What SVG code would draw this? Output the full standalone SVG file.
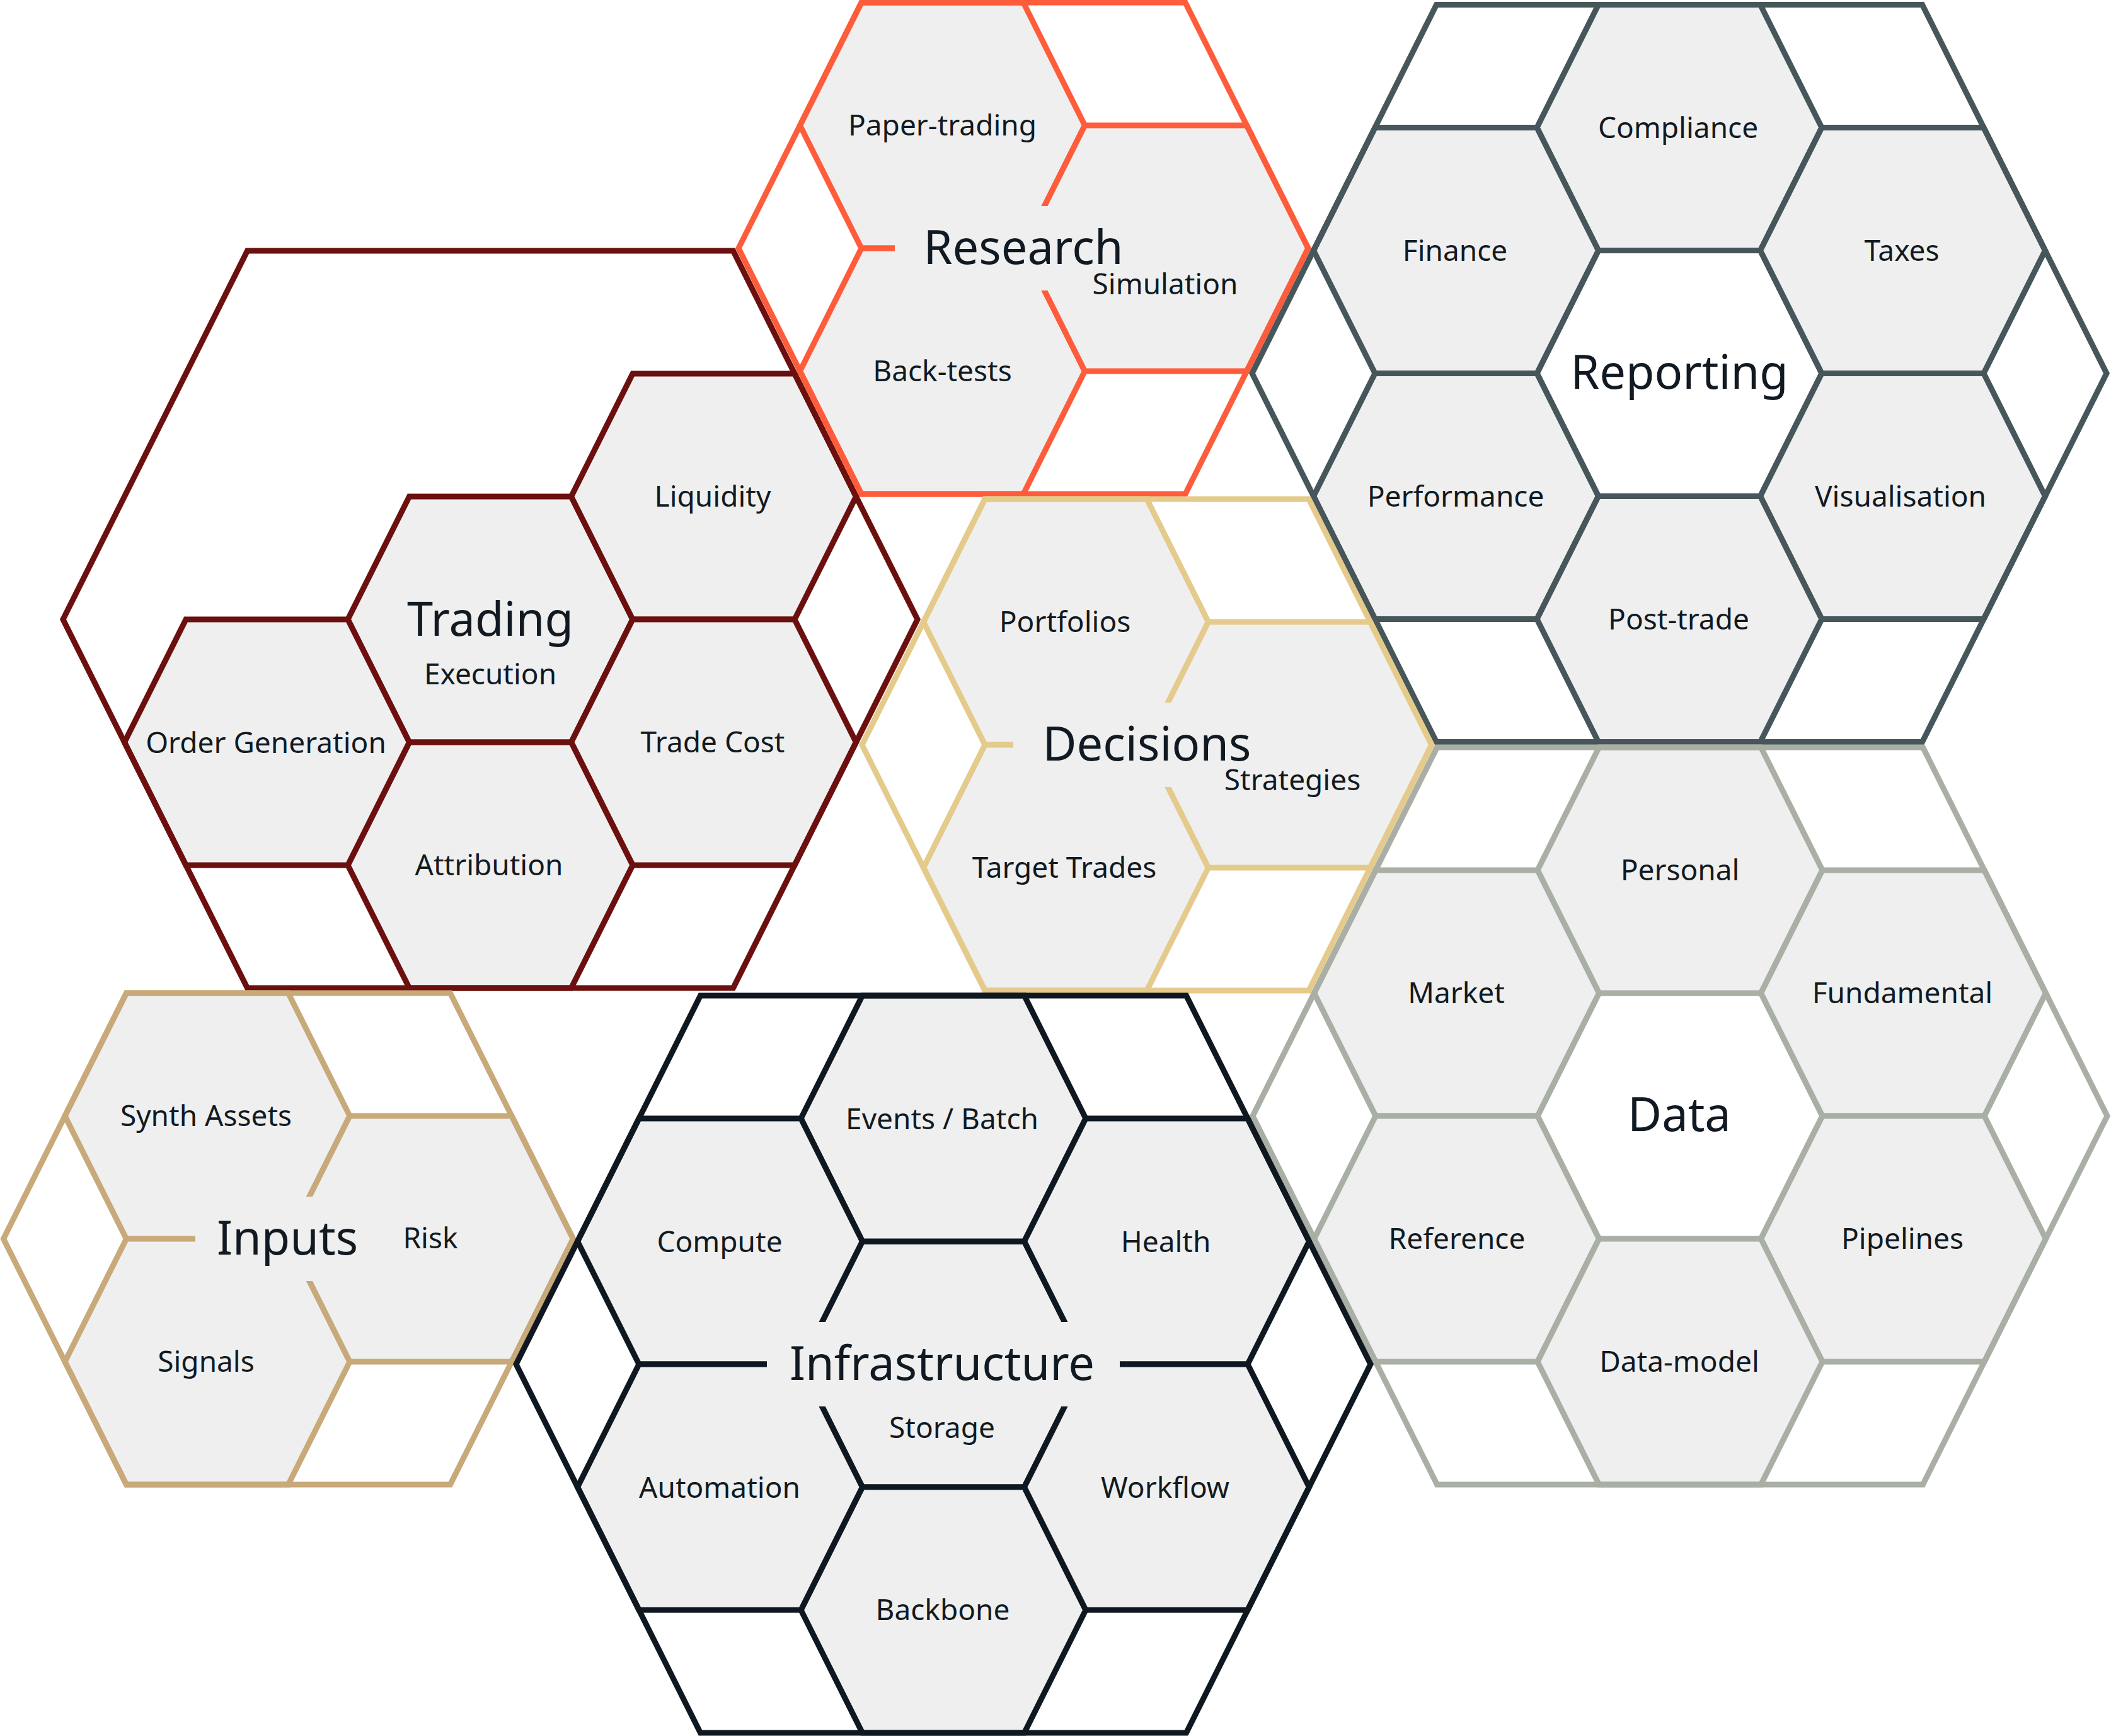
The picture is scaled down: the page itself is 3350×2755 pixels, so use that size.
<svg xmlns="http://www.w3.org/2000/svg" width="3350" height="2755" viewBox="0 0 3350 2755">
  <style>
    .cell { fill:#EFEFEF; stroke-width:9; }
    .void { fill:#FFFFFF; stroke-width:9; }
    .outer { fill:none; stroke-width:9; }
    .mask { fill:#EFEFEF; stroke:none; }
    .lbl { font-family:"Noto Sans","Liberation Sans",sans-serif; font-size:46px; fill:#111A22; stroke:none; text-anchor:middle; }
    .ttl { font-family:"Noto Sans","Liberation Sans",sans-serif; font-size:74px; fill:#111A22; stroke:none; text-anchor:middle; }
    #research { stroke:#FF5C3C; }
    #trading { stroke:#6B0F0F; }
    #reporting { stroke:#46565A; }
    #data { stroke:#A9AFA4; }
    #decisions { stroke:#E4CA8B; }
    #inputs { stroke:#C8A97A; }
    #infrastructure { stroke:#0F1820; }
  </style>
  <defs>
    <polygon id="h1" points="-226,0 -128.5,-195 128.5,-195 226,0 128.5,195 -128.5,195"/>
    <polygon id="h2" points="-452,0 -257,-390 257,-390 452,0 257,390 -257,390"/>
    <polygon id="h3" points="-678,0 -385.5,-585 385.5,-585 678,0 385.5,585 -385.5,585"/>
  </defs>
  <rect x="0" y="0" width="3350" height="2755" fill="#FFFFFF"/>

  <g id="trading">
    <g id="trading-execution"><use href="#h1" x="778" y="983" class="cell"/></g>
    <g id="trading-liquidity"><use href="#h1" x="1132.5" y="788" class="cell"/><text class="lbl" x="1131" y="804">Liquidity</text></g>
    <g id="trading-trade-cost"><use href="#h1" x="1132.5" y="1178" class="cell"/><text class="lbl" x="1131" y="1194">Trade Cost</text></g>
    <g id="trading-attribution"><use href="#h1" x="778" y="1373" class="cell"/><text class="lbl" x="776" y="1389">Attribution</text></g>
    <g id="trading-order-generation"><use href="#h1" x="423.5" y="1178" class="cell"/><text class="lbl" x="422" y="1195">Order Generation</text></g>
    <use href="#h3" x="778" y="983" class="outer"/>
    <g id="trading-title"><text class="ttl" x="778" y="1009">Trading</text><text class="lbl" x="778" y="1086">Execution</text></g>
  </g>

  <g id="research">
    <g id="research-paper-trading"><use href="#h1" x="1495.5" y="199" class="cell"/><text class="lbl" x="1495.5" y="215">Paper-trading</text></g>
    <g id="research-back-tests"><use href="#h1" x="1495.5" y="589" class="cell"/><text class="lbl" x="1495.5" y="605">Back-tests</text></g>
    <g id="research-simulation"><use href="#h1" x="1850" y="394" class="cell"/></g>
    <use href="#h2" x="1624" y="394" class="outer"/>
    <g id="research-title"><rect class="mask" x="1420" y="327" width="408" height="134"/><text class="ttl" x="1624" y="419">Research</text></g>
    <text class="lbl" x="1849" y="467">Simulation</text>
  </g>

  <g id="reporting">
    <g id="reporting-center"><use href="#h1" x="2665" y="592.5" class="void"/><text class="ttl" x="2665" y="617">Reporting</text></g>
    <g id="reporting-compliance"><use href="#h1" x="2665" y="202.5" class="cell"/><text class="lbl" x="2663" y="219">Compliance</text></g>
    <g id="reporting-finance"><use href="#h1" x="2310.5" y="397.5" class="cell"/><text class="lbl" x="2309" y="414">Finance</text></g>
    <g id="reporting-taxes"><use href="#h1" x="3019.5" y="397.5" class="cell"/><text class="lbl" x="3018" y="414">Taxes</text></g>
    <g id="reporting-performance"><use href="#h1" x="2310.5" y="787.5" class="cell"/><text class="lbl" x="2310" y="804">Performance</text></g>
    <g id="reporting-visualisation"><use href="#h1" x="3019.5" y="787.5" class="cell"/><text class="lbl" x="3016" y="804">Visualisation</text></g>
    <g id="reporting-post-trade"><use href="#h1" x="2665" y="982.5" class="cell"/><text class="lbl" x="2664" y="999">Post-trade</text></g>
    <use href="#h3" x="2665" y="592.5" class="outer"/>
  </g>

  <g id="decisions">
    <g id="decisions-portfolios"><use href="#h1" x="1691.5" y="987" class="cell"/><text class="lbl" x="1690" y="1003">Portfolios</text></g>
    <g id="decisions-target-trades"><use href="#h1" x="1691.5" y="1377" class="cell"/><text class="lbl" x="1689" y="1393">Target Trades</text></g>
    <g id="decisions-strategies"><use href="#h1" x="2046" y="1182" class="cell"/></g>
    <use href="#h2" x="1820" y="1182" class="outer"/>
    <g id="decisions-title"><rect class="mask" x="1608" y="1115" width="424" height="134"/><text class="ttl" x="1820" y="1207">Decisions</text></g>
    <text class="lbl" x="2051" y="1254">Strategies</text>
  </g>

  <g id="data">
    <g id="data-center"><use href="#h1" x="2666" y="1771" class="void"/><text class="ttl" x="2665" y="1795">Data</text></g>
    <g id="data-personal"><use href="#h1" x="2666" y="1381" class="cell"/><text class="lbl" x="2666" y="1397">Personal</text></g>
    <g id="data-market"><use href="#h1" x="2311.5" y="1576" class="cell"/><text class="lbl" x="2311" y="1592">Market</text></g>
    <g id="data-fundamental"><use href="#h1" x="3020.5" y="1576" class="cell"/><text class="lbl" x="3019" y="1592">Fundamental</text></g>
    <g id="data-reference"><use href="#h1" x="2311.5" y="1966" class="cell"/><text class="lbl" x="2312" y="1982">Reference</text></g>
    <g id="data-pipelines"><use href="#h1" x="3020.5" y="1966" class="cell"/><text class="lbl" x="3019" y="1982">Pipelines</text></g>
    <g id="data-data-model"><use href="#h1" x="2666" y="2161" class="cell"/><text class="lbl" x="2665" y="2177">Data-model</text></g>
    <use href="#h3" x="2666" y="1771" class="outer"/>
  </g>

  <g id="inputs">
    <g id="inputs-synth-assets"><use href="#h1" x="329" y="1771" class="cell"/><text class="lbl" x="327" y="1787">Synth Assets</text></g>
    <g id="inputs-signals"><use href="#h1" x="329" y="2161" class="cell"/><text class="lbl" x="327" y="2177">Signals</text></g>
    <g id="inputs-risk"><use href="#h1" x="683.5" y="1966" class="cell"/></g>
    <use href="#h2" x="457.5" y="1966" class="outer"/>
    <g id="inputs-title"><rect class="mask" x="310" y="1899" width="295" height="134"/><text class="ttl" x="456" y="1991">Inputs</text></g>
    <text class="lbl" x="683" y="1981">Risk</text>
  </g>

  <g id="infrastructure">
    <g id="infrastructure-storage"><use href="#h1" x="1497" y="2165" class="cell"/></g>
    <g id="infrastructure-events-batch"><use href="#h1" x="1497" y="1775" class="cell"/><text class="lbl" x="1495" y="1792">Events / Batch</text></g>
    <g id="infrastructure-backbone"><use href="#h1" x="1497" y="2555" class="cell"/><text class="lbl" x="1496" y="2571">Backbone</text></g>
    <g id="infrastructure-compute"><use href="#h1" x="1142.5" y="1970" class="cell"/><text class="lbl" x="1142" y="1987">Compute</text></g>
    <g id="infrastructure-health"><use href="#h1" x="1851.5" y="1970" class="cell"/><text class="lbl" x="1850" y="1987">Health</text></g>
    <g id="infrastructure-automation"><use href="#h1" x="1142.5" y="2360" class="cell"/><text class="lbl" x="1142" y="2377">Automation</text></g>
    <g id="infrastructure-workflow"><use href="#h1" x="1851.5" y="2360" class="cell"/><text class="lbl" x="1849" y="2377">Workflow</text></g>
    <use href="#h3" x="1497" y="2165" class="outer"/>
    <g id="infrastructure-title"><rect class="mask" x="1217" y="2098" width="560" height="134"/><text class="ttl" x="1495" y="2190">Infrastructure</text><text class="lbl" x="1495" y="2282">Storage</text></g>
  </g>

  <g id="connectors"/>
</svg>
